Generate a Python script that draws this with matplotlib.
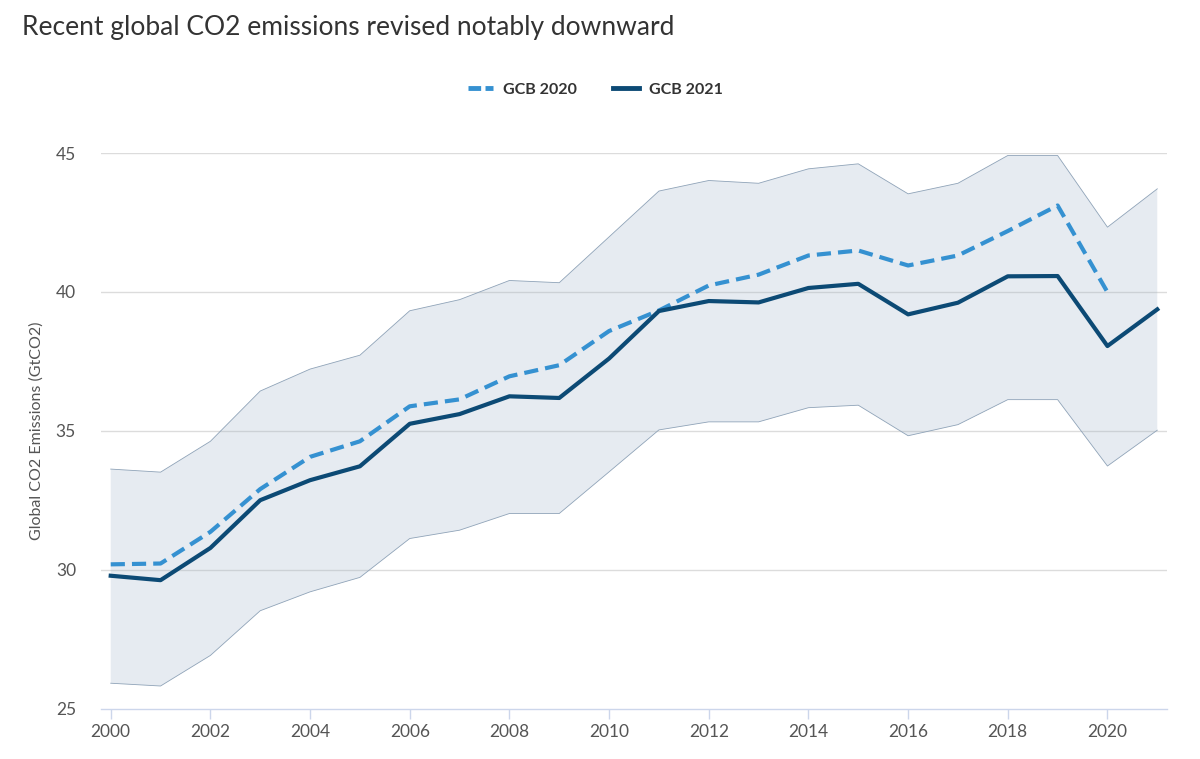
import matplotlib
matplotlib.use("Agg")
import matplotlib.pyplot as plt
from matplotlib.lines import Line2D

years = list(range(2000, 2022))
gcb2021 = [29.78, 29.62, 30.78, 32.50, 33.22, 33.72, 35.25, 35.60, 36.24, 36.18, 37.60,
           39.31, 39.67, 39.62, 40.14, 40.29, 39.19, 39.61, 40.56, 40.57, 38.05, 39.37]
gcb2020 = [30.19, 30.22, 31.36, 32.90, 34.06, 34.62, 35.88, 36.13, 36.96, 37.36, 38.59,
           39.33, 40.23, 40.62, 41.31, 41.49, 40.95, 41.31, 42.19, 43.11, 39.99]
band_low = [25.91, 25.81, 26.91, 28.52, 29.20, 29.72, 31.12, 31.42, 32.02, 32.02, 33.52,
            35.03, 35.32, 35.32, 35.83, 35.92, 34.82, 35.22, 36.12, 36.12, 33.73, 35.02]
band_high = [33.62, 33.51, 34.62, 36.43, 37.22, 37.72, 39.32, 39.72, 40.41, 40.33, 41.98,
             43.63, 44.01, 43.91, 44.43, 44.61, 43.53, 43.91, 44.91, 44.91, 42.33, 43.71]
xticks = list(range(2000, 2021, 2))
yticks = [25, 30, 35, 40, 45]

plt.rcParams['font.family'] = ['Lato', 'DejaVu Sans']

fig = plt.figure(figsize=(12, 7.59), dpi=100)
ax = fig.add_axes([101/1200, 1-708.5/759, (1167-101)/1200, (708.5-153)/759])

c20 = '#3591d1'
c21 = '#0c4a75'

ax.fill_between(years, band_low, band_high, facecolor='#9fb3c8', alpha=0.25, lw=0, zorder=1)
ax.plot(years, band_low, color='#8fa3b8', lw=0.6, zorder=2)
ax.plot(years, band_high, color='#8fa3b8', lw=0.6, zorder=2)
ax.plot(years[:len(gcb2020)], gcb2020, color=c20, lw=3.0, dashes=(3.4, 1.7), zorder=4,
        solid_joinstyle='round')
ax.plot(years, gcb2021, color=c21, lw=3.0, zorder=5, solid_joinstyle='round')

ax.set_xlim(1999.805, 2021.195)
ax.set_ylim(25, 45)
ax.set_xticks(xticks)
ax.set_yticks(yticks)
for y in yticks[1:]:
    ax.axhline(y, color='#dcdcdc', lw=1, zorder=0)

for s in ['top', 'right', 'left']:
    ax.spines[s].set_visible(False)
ax.spines['bottom'].set_color('#ccd6eb')
ax.spines['bottom'].set_linewidth(1)
ax.tick_params(axis='x', colors='#ccd6eb', length=7.5, width=1, pad=4, labelcolor='#555555', labelsize=12.5)
ax.tick_params(axis='y', length=0, pad=18, labelcolor='#555555', labelsize=12.5)
ax.set_ylabel('Global CO2 Emissions (GtCO2)', fontsize=11.5, color='#555555', labelpad=12)
ax.yaxis.set_label_coords(-0.0535, 0.5)

fig.text(22/1200, 1-27/759, 'Recent global CO2 emissions revised notably downward',
         fontsize=19, color='#333333', va='center', ha='left')

handles = [Line2D([0], [0], color=c20, lw=3.5, dashes=(2.6, 0.9)),
           Line2D([0], [0], color=c21, lw=3.5)]
fig.legend(handles, ['GCB 2020', 'GCB 2021'], loc='center', bbox_to_anchor=(595/1200, 1-90/759),
           ncol=2, frameon=False, handlelength=1.6, columnspacing=2.3, handletextpad=0.6,
           prop={'weight': 'bold', 'size': 11.5}, labelcolor='#333333')

fig.savefig('out.png', dpi=100)
